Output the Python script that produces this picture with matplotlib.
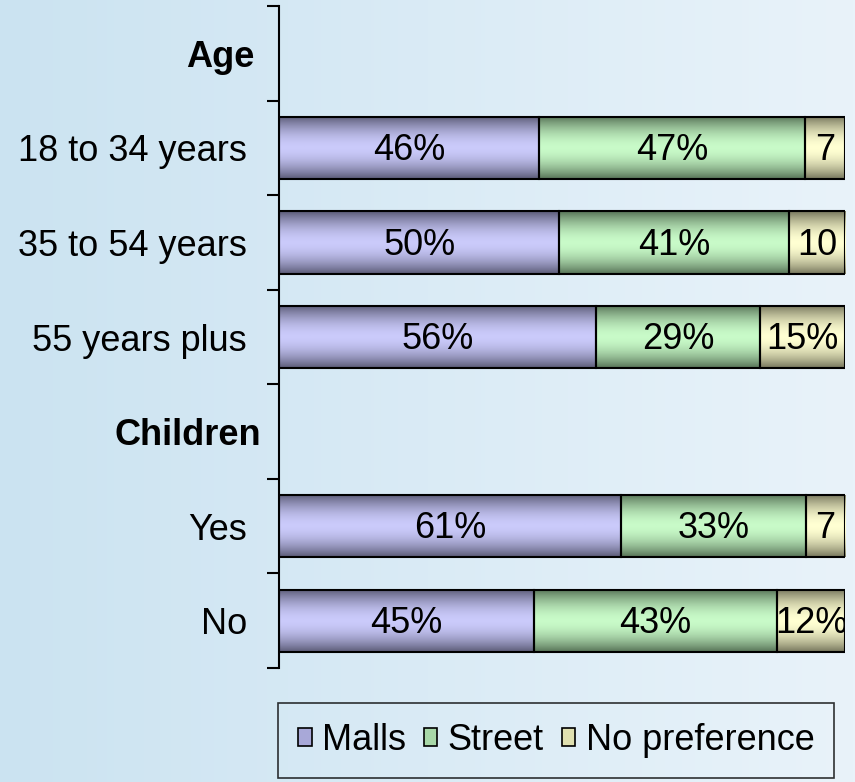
import numpy as np
import matplotlib
matplotlib.use("Agg")
import matplotlib.pyplot as plt
import matplotlib.transforms as mtransforms
from matplotlib.patches import Patch
from matplotlib.colors import LinearSegmentedColormap

plt.rcParams['font.family'] = ['Liberation Sans', 'DejaVu Sans']

categories = ["Age", "18 to 34 years", "35 to 54 years", "55 years plus", "Children", "Yes", "No"]
header_rows = ["Age", "Children"]
series_names = ["Malls", "Street", "No preference"]
malls = [0, 46, 50, 56, 0, 61, 45]
street = [0, 47, 41, 29, 0, 33, 43]
nopref = [0, 7, 10, 15, 0, 7, 12]
labels = {
    "Malls": ["", "46%", "50%", "56%", "", "61%", "45%"],
    "Street": ["", "47%", "41%", "29%", "", "33%", "43%"],
    "No preference": ["", "7", "10", "15%", "", "7", "12%"],
}

light = {"Malls": "#CACAFA", "Street": "#C8FAC8", "No preference": "#FFFFD2"}
dark = {"Malls": "#5C5C78", "Street": "#587458", "No preference": "#78785E"}
mid = {"Malls": "#A8A8D8", "Street": "#A8D8A8", "No preference": "#E0E0B0"}

FS = 26
W, H = 855, 782
fig = plt.figure(figsize=(W / 100, H / 100), dpi=100)

# background gradient
bg = fig.add_axes([0, 0, 1, 1], zorder=-10)
grad = np.linspace(0, 1, 256).reshape(1, -1)
bgcmap = LinearSegmentedColormap.from_list("bg", ["#CBE3F1", "#E9F3FA"])
bg.imshow(grad, aspect="auto", cmap=bgcmap, extent=[0, 1, 0, 1])
bg.set_axis_off()

ax = fig.add_axes([279 / W, 1 - 668 / H, (845 - 279) / W, (668 - 6) / H])
ax.patch.set_alpha(0)

data = np.array([malls, street, nopref], dtype=float)
totals = data.sum(axis=0)
totals[totals == 0] = 1
frac = data / totals

y = np.arange(len(categories))
left = np.zeros(len(categories))
vgrad = np.abs(np.linspace(-1, 1, 64)).reshape(-1, 1) ** 1.8
for i, name in enumerate(series_names):
    vals = frac[i]
    bars = ax.barh(y, vals, left=left, height=0.66, color=mid[name],
                   edgecolor="black", linewidth=1.5, zorder=3)
    cmap = LinearSegmentedColormap.from_list(name, [light[name], dark[name]])
    for j, b in enumerate(bars):
        if data[i, j] == 0:
            b.set_visible(False)
            continue
        x0, y0 = b.get_x(), b.get_y()
        w, h = b.get_width(), b.get_height()
        im = ax.imshow(vgrad, aspect="auto", cmap=cmap, extent=[x0, x0 + w, y0, y0 + h],
                       zorder=2, interpolation="bilinear")
        im.set_clip_path(b)
        b.set_facecolor("none")
        lab = labels[name][j]
        t = ax.text(x0 + w / 2, y[j] + 0.03, lab, ha="center", va="center",
                    fontsize=FS, zorder=5, clip_on=True)
        t.set_clip_path(b)
    left += vals

ax.set_xlim(0, 1)
ax.set_ylim(len(categories) - 0.5, -0.5)
ax.set_yticks(y)
ax.set_yticklabels(categories, fontsize=FS)
ax.set_yticks(np.arange(len(categories) + 1) - 0.5, minor=True)
ax.tick_params(axis="y", which="major", length=0, pad=23)
ax.tick_params(axis="y", which="minor", length=9, width=1.5, direction="out")
ax.set_xticks([])
for s in ["top", "right", "bottom"]:
    ax.spines[s].set_visible(False)
ax.spines["left"].set_linewidth(1.5)

shift = {"Age": 7, "Children": 14}
for tl in ax.get_yticklabels():
    txt = tl.get_text()
    if txt in header_rows:
        tl.set_fontweight("bold")
        off = mtransforms.ScaledTranslation(shift[txt] / 100, 0, fig.dpi_scale_trans)
        tl.set_transform(tl.get_transform() + off)

handles = [Patch(facecolor=mid[n], edgecolor="black", linewidth=1.2) for n in series_names]
leg = fig.legend(handles, series_names, loc="upper left",
                 bbox_to_anchor=(278 / W, 1 - 703 / H), ncol=3, fontsize=FS,
                 frameon=True, fancybox=False, handlelength=0.38, handleheight=0.38,
                 handletextpad=0.28, columnspacing=0.5, borderpad=0.55, borderaxespad=0)
leg.get_frame().set_edgecolor("black")
leg.get_frame().set_linewidth(1.2)
leg.get_frame().set_facecolor("none")

fig.savefig("out.png", dpi=100)
